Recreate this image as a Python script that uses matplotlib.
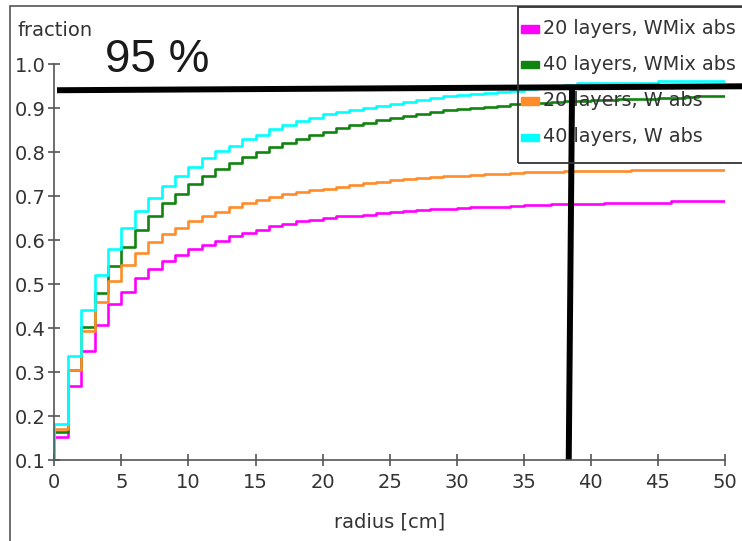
import matplotlib
matplotlib.use("Agg")
import matplotlib.pyplot as plt
from matplotlib.patches import Rectangle
import numpy as np

# radial bins, 1 cm wide
edges = np.arange(0, 51, 1)

frac_20_wmix = [0.152, 0.268, 0.349, 0.408, 0.454, 0.483, 0.514, 0.535, 0.553, 0.567,
                0.579, 0.590, 0.599, 0.609, 0.617, 0.624, 0.632, 0.637, 0.643, 0.647,
                0.651, 0.654, 0.656, 0.658, 0.661, 0.664, 0.666, 0.668, 0.670, 0.671,
                0.673, 0.675, 0.676, 0.676, 0.678, 0.679, 0.679, 0.682, 0.682, 0.682,
                0.682, 0.685, 0.685, 0.685, 0.685, 0.685, 0.688, 0.688, 0.688, 0.688]
frac_40_wmix = [0.163, 0.305, 0.403, 0.480, 0.541, 0.584, 0.622, 0.655, 0.685, 0.705,
                0.727, 0.745, 0.761, 0.776, 0.789, 0.801, 0.811, 0.821, 0.831, 0.839,
                0.846, 0.854, 0.861, 0.867, 0.873, 0.878, 0.883, 0.888, 0.892, 0.896,
                0.899, 0.901, 0.903, 0.906, 0.909, 0.911, 0.913, 0.914, 0.916, 0.917,
                0.918, 0.919, 0.920, 0.921, 0.922, 0.923, 0.924, 0.925, 0.927, 0.928]
frac_20_w = [0.170, 0.305, 0.393, 0.459, 0.508, 0.543, 0.571, 0.596, 0.613, 0.628,
             0.643, 0.655, 0.664, 0.675, 0.685, 0.692, 0.698, 0.704, 0.709, 0.714,
             0.717, 0.721, 0.725, 0.729, 0.732, 0.736, 0.738, 0.742, 0.744, 0.745,
             0.747, 0.749, 0.750, 0.751, 0.753, 0.754, 0.754, 0.754, 0.757, 0.757,
             0.757, 0.757, 0.757, 0.760, 0.760, 0.760, 0.760, 0.760, 0.760, 0.760]
frac_40_w = [0.182, 0.336, 0.442, 0.520, 0.579, 0.627, 0.666, 0.696, 0.724, 0.746,
             0.766, 0.786, 0.802, 0.814, 0.829, 0.840, 0.852, 0.861, 0.870, 0.878,
             0.886, 0.892, 0.896, 0.900, 0.905, 0.910, 0.915, 0.919, 0.923, 0.927,
             0.930, 0.933, 0.935, 0.938, 0.940, 0.944, 0.947, 0.950, 0.953, 0.958,
             0.958, 0.958, 0.958, 0.958, 0.958, 0.962, 0.962, 0.962, 0.962, 0.962]

labels = ["20 layers, WMix abs", "40 layers, WMix abs", "20 layers, W abs", "40 layers, W abs"]
colors = ["#ff00ff", "#108410", "#ff8c28", "#00ffff"]
series = [frac_20_wmix, frac_40_wmix, frac_20_w, frac_40_w]

# 95 % marker lines (hand drawn in the original)
hline_x = [0.2, 51.3]
hline_y = [0.941, 0.950]
vline_x = [38.6, 38.35]
vline_y = [0.950, 0.1]

W, H = 742, 541
fig = plt.figure(figsize=(W / 100, H / 100), dpi=100)
ax = fig.add_axes([54.3 / W, (H - 460) / H, (725 - 54.3) / W, (460 - 64.3) / H])

txt = "#333333"
for vals, col in zip(series, colors):
    v = np.asarray(vals)
    x = np.r_[edges[0], edges]
    y = np.r_[0.0, v, v[-1]]
    ax.step(x, y, where="post", color=col, lw=1.9)

ax.plot(hline_x, hline_y, color="black", lw=4.3, clip_on=False, solid_capstyle="butt")
ax.plot(vline_x, vline_y, color="black", lw=4.3, clip_on=False, solid_capstyle="butt")

ax.set_xlim(0, 50)
ax.set_ylim(0.1, 1.0)
ax.set_xticks(np.arange(0, 51, 5))
ax.set_yticks(np.arange(0.1, 1.01, 0.1))
ax.set_yticklabels([f"{t:.1f}" for t in np.arange(0.1, 1.01, 0.1)])
for s in ["top", "right"]:
    ax.spines[s].set_visible(False)
for s in ["left", "bottom"]:
    ax.spines[s].set_color("#555555")
    ax.spines[s].set_linewidth(1.2)
ax.tick_params(direction="inout", length=8, width=1.2, color="#555555",
               labelsize=14, labelcolor=txt, pad=2)
ax.tick_params(axis="x", pad=5)
ax.patch.set_alpha(0)

fig.text(17 / W, 1 - 31 / H, "fraction", fontsize=14, color=txt, va="center", ha="left")
fig.text(390 / W, 1 - 522 / H, "radius [cm]", fontsize=14, color=txt, va="center", ha="center")
fig.text(105 / W, 1 - 72 / H, "95 %", fontsize=33, color="#1a1a1a",
         family="Liberation Sans", va="baseline", ha="left")

# outer frame
fig.patches.append(Rectangle((10 / W, -0.02), 1.1, 1 - 6 / H + 0.02, transform=fig.transFigure,
                             fill=False, ec="#555555", lw=1.2))
# legend box
fig.patches.append(Rectangle((517.7 / W, 1 - 163 / H), 0.5, (163 - 6.5) / H,
                             transform=fig.transFigure, fill=False, ec="#333333", lw=1.3))
for i, (lab, col) in enumerate(zip(labels, colors)):
    yc = 29 + 36 * i
    fig.patches.append(Rectangle((521 / W, 1 - (yc + 3.5) / H), 18 / W, 7 / H,
                                 transform=fig.transFigure, color=col))
    fig.text(543 / W, 1 - yc / H, lab, fontsize=13.8, color=txt, va="center", ha="left")

fig.savefig("out.png", dpi=100)
